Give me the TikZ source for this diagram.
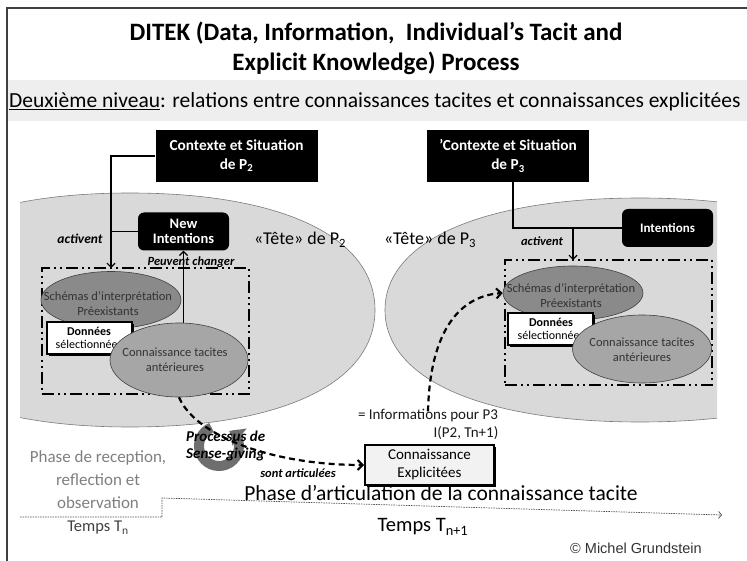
\documentclass[tikz,border=0pt]{standalone}
\usepackage{fontspec}
\setmainfont{Carlito}
\newfontfamily\arialfont{Liberation Sans}
\usetikzlibrary{arrows.meta,shapes.geometric}
\definecolor{bandc}{HTML}{EEEEEE}
\definecolor{headc}{HTML}{D9D9D9}
\definecolor{headedge}{HTML}{7A7A7A}
\definecolor{schc}{HTML}{8A8A8A}
\definecolor{connc}{HTML}{A6A6A6}
\definecolor{edgec}{HTML}{404040}
\definecolor{txtc}{HTML}{333333}
\definecolor{phasec}{HTML}{7F7F7F}
\definecolor{circc}{HTML}{6E6E6E}
\definecolor{framec}{HTML}{404040}
\definecolor{explc}{HTML}{F2F2F2}
\begin{document}
\begin{tikzpicture}[x=1pt,y=-1pt,
  titlef/.style={font=\bfseries\fontsize{25}{30}\selectfont, inner sep=0},
  ctxbox/.style={fill=black, text=white, font=\bfseries\fontsize{15.3}{19}\selectfont, align=center, minimum width=162, minimum height=52, inner sep=0},
  intbox/.style={fill=black, rounded corners=6, text=white, font=\bfseries\fontsize{13}{15}\selectfont, align=center, minimum width=91, minimum height=38, inner sep=0},
  dashbox/.style={draw=black, line width=2.6, dash pattern=on 12pt off 4pt on 2pt off 4pt on 2pt off 4pt, inner sep=0},
  schell/.style={ellipse, fill=schc, draw=edgec, line width=0.6, inner sep=0},
  connell/.style={ellipse, fill=connc, draw=edgec, line width=0.6, inner sep=0},
  elltext/.style={text=txtc, font=\fontsize{12.5}{15}\selectfont, align=center, inner sep=0},
  databox/.style={fill=white, draw=black, line width=2, minimum width=85, minimum height=32, inner sep=0},
  datatext/.style={text=black, font=\fontsize{12}{12.5}\selectfont, align=center, inner sep=0},
  tete/.style={font=\fontsize{18}{21}\selectfont, inner sep=0},
  smalllab/.style={font=\bfseries\itshape\fontsize{12.5}{14}\selectfont, inner sep=0},
  conn/.style={draw=black, line width=1.2},
  arr/.style={conn, -{Straight Barb[length=4pt,width=8pt]}},
  dasharr/.style={draw=black, line width=2.2, dash pattern=on 6pt off 4pt, -{Straight Barb[length=5pt,width=10pt,line width=2pt]}},
  infot/.style={text=black!90, font=\fontsize{15}{18}\selectfont, inner sep=0}]
\useasboundingbox (0,0) rectangle (747,561);
% subtitle band and frame
\fill[bandc] (8,80) rectangle (747,121);
\draw[framec, line width=1.3] (7,561) -- (7,8) -- (747,8);
% titles
\node[titlef] (t1) at (376,33) {DITEK (Data, Information,\ \ Individual’s Tacit and};
\node[titlef] (t2) at (376,63) {Explicit Knowledge) Process};
\node[anchor=west, font=\fontsize{21.5}{24}\selectfont, inner sep=0] (sub) at (9,102) {\underline{Deuxième niveau}: relations entre connaissances tacites et connaissances explicitées};
% heads
\begin{scope}
\clip (20,0) rectangle (717,561);
\filldraw[fill=headc, draw=headedge, line width=0.6] (375,310) .. controls (375,237) and (282,193) .. (130,193) .. controls (-22,193) and (-115,237) .. (-115,310) .. controls (-115,383) and (-22,427) .. (130,427) .. controls (282,427) and (375,383) .. (375,310) -- cycle;
\filldraw[fill=headc, draw=headedge, line width=0.6] (385,310) .. controls (385,241) and (482,198) .. (640,198) .. controls (798,198) and (895,241) .. (895,310) .. controls (895,379) and (798,422) .. (640,422) .. controls (482,422) and (385,379) .. (385,310) -- cycle;
\end{scope}
\node[tete] (tete2) at (300,240) {«Tête» de P\textsubscript{2}};
\node[tete] (tete3) at (430,240) {«Tête» de P\textsubscript{3}};
% context boxes
\node[ctxbox] (ctx2) at (236.5,156) {Contexte et Situation\\de P\textsubscript{2}};
\node[ctxbox] (ctx3) at (508,156) {’Contexte et Situation\\de P\textsubscript{3}};
% intentions
\node[intbox, font=\bfseries\fontsize{14.5}{15.5}\selectfont] (ni2) at (183.5,231.5) {New\\Intentions};
\node[intbox] (int3) at (667.5,228) {Intentions};
% dash boxes
\node[dashbox, minimum width=207, minimum height=126] (db2) at (145.5,331) {};
\node[dashbox, minimum width=207, minimum height=125] (db3) at (608.5,322.5) {};
% left head content
\node[schell, minimum width=140, minimum height=57] (sch2) at (111,300) {};
\node[elltext] (sch2t) at (108,304) {Schémas d’interprétation\\Préexistants};
\fill[black] (49,324) rectangle (134,356);
\node[databox] (dat2) at (89.5,338) {};
\node[datatext] (dat2t) at (89,338) {\textbf{Données}\\sélectionnées};
\node[connell, minimum width=138, minimum height=74] (conn2) at (179,360) {};
\node[elltext] (conn2t) at (175,360) {Connaissance tacites\\antérieures};
% right head content
\node[schell, minimum width=140, minimum height=54] (sch3) at (573,293) {};
\node[elltext] (sch3t) at (571,296) {Schémas d’interprétation\\Préexistants};
\fill[black] (510,315) rectangle (595,347);
\node[databox] (dat3) at (550.5,329) {};
\node[datatext] (dat3t) at (551,329) {\textbf{Données}\\sélectionnées};
\node[connell, minimum width=139, minimum height=68] (conn3) at (642,349) {};
\node[elltext] (conn3t) at (642,350) {Connaissance tacites\\antérieures};
% connectors left
\coordinate (e2) at (111,268);
\draw[arr] (ctx2.west) -| (e2);
\draw[conn] (ni2.west) -- (ni2.west -| e2);
\draw[arr] (ni2.south |- conn2.north) -- (ni2.south);
\node[smalllab, font=\bfseries\itshape\fontsize{13.5}{15}\selectfont] (act2) at (80,239) {activent};
\node[smalllab] (pc) at (191,262) {Peuvent changer};
% connectors right
\coordinate (s3) at (513,182);
\coordinate (k3) at (573,228);
\coordinate (e3) at (573,260);
\draw[arr] (s3) |- (k3) -- (e3);
\draw[conn] (int3.west) -- (k3);
\node[smalllab] (act3) at (542,241) {activent};
% explicit knowledge
\fill[black] (367,447) rectangle (496,487);
\node[fill=explc, draw=black, line width=2, minimum width=129, minimum height=40, inner sep=0, align=center, font=\fontsize{15}{18}\selectfont] (cexp) at (429.5,465) {Connaissance\\Explicitées};
% circular arrow
\draw[circc, line width=10, -{Triangle[length=10pt,width=22pt]}] ([shift={(-112:20)}]219,446) arc[start angle=-112, end angle=-410, radius=20];
% dashed arrows
\draw[dasharr] (conn2.south) .. controls (195,435) and (270,465) .. (cexp.west);
\node[infot] (info) at (428,416) {= Informations pour P3};
\node[infot] (info2) at (466,433) {I(P2, Tn+1)};
\draw[dasharr] ([yshift=-2pt]info.north) .. controls (430,330) and (460,296) .. (sch3.west);
% labels
\node[anchor=west, align=left, font=\bfseries\itshape\fontsize{15}{17}\selectfont, inner sep=0] (proc) at (186,446) {Processus de\\Sense-giving};
\node[smalllab] (sa) at (298,473) {sont articulées};
% phases
\node[text=phasec, align=center, font=\fontsize{17}{23}\selectfont, inner sep=0] (ph1) at (98,480) {Phase de reception,\\reflection et\\observation};
\node[text=edgec, font=\fontsize{16.5}{19}\selectfont, inner sep=0] (tn) at (98,528) {Temps T\textsubscript{n}};
\node[font=\fontsize{21.5}{24}\selectfont, inner sep=0] (ph2) at (441,493) {Phase d’articulation de la connaissance tacite};
\node[font=\fontsize{20.5}{24}\selectfont, inner sep=0] (tn1) at (423,527) {Temps T\textsubscript{n+1}};
\coordinate (l0) at (20,517);
\coordinate (l1) at (162,517);
\coordinate (l2) at (162,498);
\coordinate (l3) at (722,515);
\draw[black!70, line width=0.7, dash pattern=on 1.5pt off 1pt, -{Straight Barb[length=3pt,width=7pt]}] (l0) -- (l1) -- (l2) -- (l3);
\node[text=txtc, font=\arialfont\fontsize{14.5}{17}\selectfont, inner sep=0] (copy) at (636,548) {© Michel Grundstein};
\end{tikzpicture}
\end{document}
